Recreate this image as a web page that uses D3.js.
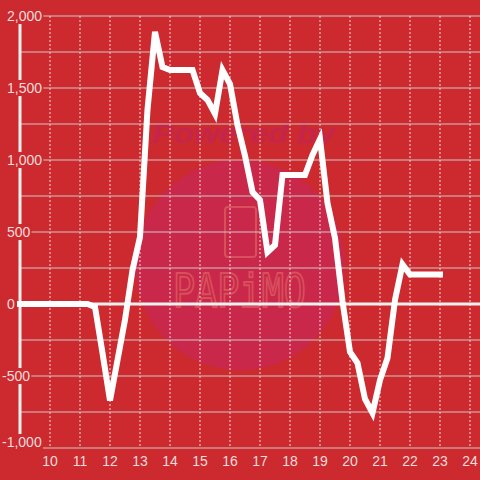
<!DOCTYPE html>
<meta charset="utf-8">
<style>

body {
  margin: 0;
  background: #cc2a2f;
}

svg {
  display: block;
  font-family: "Liberation Sans", Arial, sans-serif;
}

.grid-h line {
  stroke: #cfc5c6;
  stroke-width: 1px;
}

.grid-v line {
  stroke: #ecd6d7;
  stroke-width: 1px;
  stroke-dasharray: 2,2;
}

.tick-label {
  fill: #f3dcdc;
  font-size: 14px;
}

.series {
  fill: none;
  stroke: #fff;
  stroke-width: 6px;
  stroke-linecap: square;
}

</style>
<body>
<svg width="480" height="480"></svg>
<script src="https://d3js.org/d3.v7.min.js"></script>
<script>

// hour of day
var hours = [9, 9.25, 9.5, 9.75, 10, 10.25, 10.5, 10.75, 11, 11.25, 11.5, 11.75,
  12, 12.25, 12.5, 12.75, 13, 13.25, 13.5, 13.75, 14, 14.25, 14.5, 14.75,
  15, 15.25, 15.5, 15.75, 16, 16.25, 16.5, 16.75, 17, 17.25, 17.5, 17.75,
  18, 18.25, 18.5, 18.75, 19, 19.25, 19.5, 19.75, 20, 20.25, 20.5, 20.75,
  21, 21.25, 21.5, 21.75, 22, 22.25, 22.5, 22.75, 23];

var values = [0, 0, 0, 0, 0, 0, 0, 0, 0, 0, -20, -340,
  -670, -390, -110, 236, 465, 1350, 1890, 1645, 1625, 1625, 1625, 1625,
  1465, 1417, 1320, 1625, 1528, 1243, 1030, 778, 722, 361, 410, 896,
  896, 896, 896, 1035, 1146, 700, 458, 20, -333, -410, -660, -757,
  -528, -375, 28, 275, 205, 205, 205, 205, 205];

var xTicks = [10, 11, 12, 13, 14, 15, 16, 17, 18, 19, 20, 21, 22, 23, 24];
var yGrid = [-1000, -750, -500, -250, 0, 250, 500, 750, 1000, 1250, 1500, 1750, 2000];
var yLabels = [-1000, -500, 0, 500, 1000, 1500, 2000];

var bg = "#cc2a2f";
var svg = d3.select("svg");

var x = d3.scaleLinear().domain([9, 24]).range([20, 470]);
var y = d3.scaleLinear().domain([-1000, 2000]).range([448, 16]);

// watermark behind the chart
var wm = svg.append("g").attr("class", "watermark");
wm.append("circle")
    .attr("cx", 240).attr("cy", 265).attr("r", 105)
    .attr("fill", "#c9284a");
wm.append("text")
    .attr("x", 152).attr("y", 143)
    .attr("font-size", 27).attr("font-weight", "bold").attr("font-style", "italic")
    .attr("textLength", 183).attr("lengthAdjust", "spacingAndGlyphs")
    .attr("fill", "#c52549")
    .text("Powered by");
wm.append("rect")
    .attr("x", 225).attr("y", 207).attr("width", 31).attr("height", 50).attr("rx", 3)
    .attr("fill", "none").attr("stroke", "#d8505c").attr("stroke-width", 2);
wm.append("text")
    .attr("x", 173).attr("y", 307)
    .attr("font-size", 46).attr("font-family", "DejaVu Sans Mono, monospace")
    .attr("textLength", 133).attr("lengthAdjust", "spacingAndGlyphs")
    .attr("fill", "none").attr("stroke", "#d8505c").attr("stroke-width", 2)
    .text("PAPiMO");

// horizontal grid
svg.append("g").attr("class", "grid-h")
  .selectAll("line")
  .data(yGrid.filter(function(d) { return d !== 0; }))
  .enter().append("line")
    .attr("x1", 20).attr("x2", 480)
    .attr("y1", function(d) { return y(d); })
    .attr("y2", function(d) { return y(d); });

// vertical dotted grid
svg.append("g").attr("class", "grid-v")
  .selectAll("line")
  .data(xTicks)
  .enter().append("line")
    .attr("x1", function(d) { return x(d); })
    .attr("x2", function(d) { return x(d); })
    .attr("y1", y(2000)).attr("y2", y(-1000));

// y axis and zero line
svg.append("line")
    .attr("x1", 20).attr("x2", 20)
    .attr("y1", y(2000)).attr("y2", y(-1000))
    .attr("stroke", "#f2f0f0").attr("stroke-width", 3);
svg.append("line")
    .attr("x1", 20).attr("x2", 480)
    .attr("y1", y(0)).attr("y2", y(0))
    .attr("stroke", "#f2f0f0").attr("stroke-width", 3);

// y labels with background boxes
var fmt = d3.format(",");
var yl = svg.append("g").selectAll("g")
  .data(yLabels)
  .enter().append("g");

yl.append("text")
    .attr("class", "tick-label")
    .attr("x", function(d) { return d < 0 ? 2 : 7; })
    .attr("y", function(d) { return Math.min(y(d), 442); })
    .attr("dy", "0.36em")
    .text(function(d) { return fmt(d).replace("−", "-"); });

yl.each(function() {
  var t = d3.select(this).select("text");
  var b = t.node().getBBox();
  d3.select(this).insert("rect", "text")
      .attr("x", b.x - 1).attr("y", b.y)
      .attr("width", b.width + 2).attr("height", b.height)
      .attr("fill", bg);
});

// x labels
svg.append("g").selectAll("text")
  .data(xTicks)
  .enter().append("text")
    .attr("class", "tick-label")
    .attr("x", function(d) { return x(d); })
    .attr("y", 461)
    .attr("dy", "0.36em")
    .attr("text-anchor", "middle")
    .text(function(d) { return d; });

// the series
var line = d3.line()
    .x(function(d, i) { return x(hours[i]); })
    .y(function(d) { return y(d); });

svg.append("path")
    .attr("class", "series")
    .attr("d", line(values));

</script>
